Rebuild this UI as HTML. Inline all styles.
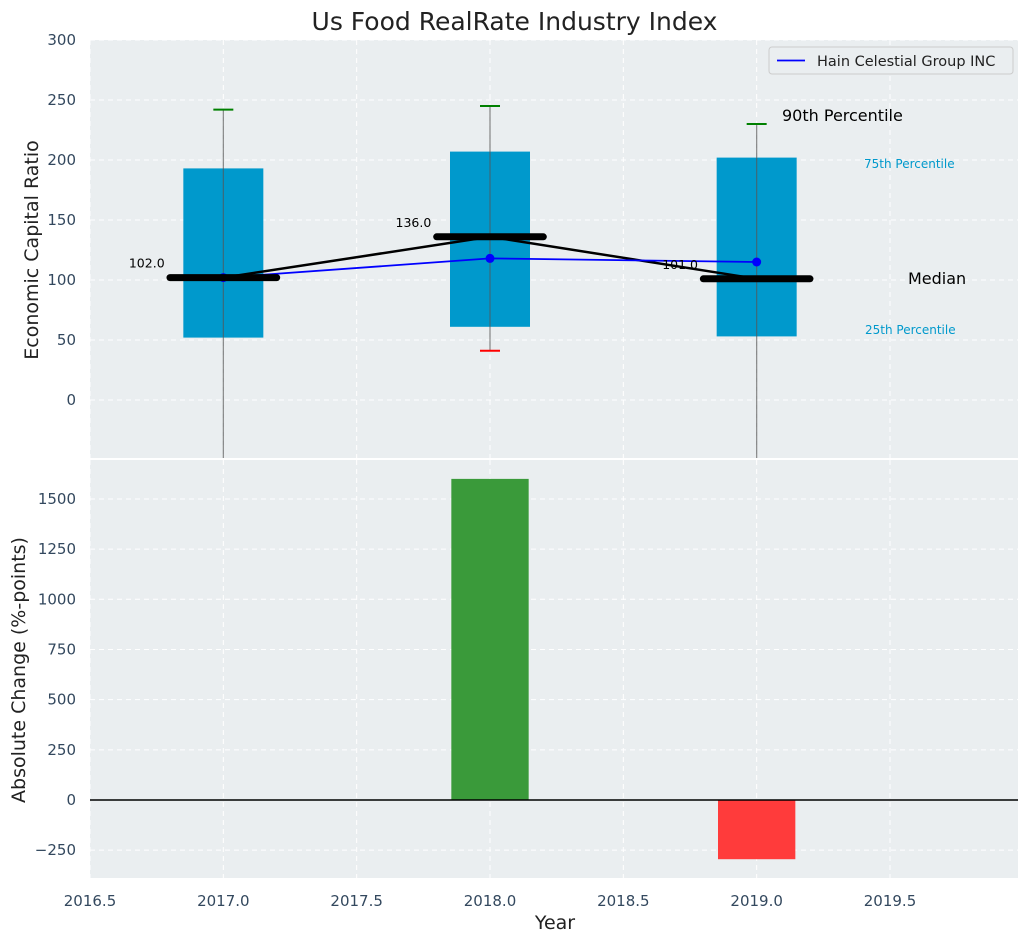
<!DOCTYPE html>
<html><head><meta charset="utf-8"><style>
body{margin:0;background:#fff;font-family:"Liberation Sans","DejaVu Sans",sans-serif}
svg text{font-family:"DejaVu Sans","Liberation Sans",sans-serif}
</style></head><body>
<svg id="c" width="1029" height="942" xmlns="http://www.w3.org/2000/svg"></svg>
<script>
const years=[2017,2018,2019];
const p10=[-100,41,-100];
const p25=[52,61,53];
const p50=[102,136,101];
const p75=[193,207,202];
const p90=[242,245,230];
const company=[102,118,115];
const changes=[0,1600,-295];
const xTicks=[2016.5,2017,2017.5,2018,2018.5,2019,2019.5];
const yTicksTop=[0,50,100,150,200,250,300];
const yTicksBot=[-250,0,250,500,750,1000,1250,1500];

const NS="http://www.w3.org/2000/svg";
const svg=document.getElementById('c');
function el(t,a,p){const e=document.createElementNS(NS,t);for(const k in a)e.setAttribute(k,a[k]);(p||svg).appendChild(e);return e;}
const L=90,R=1018;
const X=v=>L+(v-2016.5)/(2019.98-2016.5)*(R-L);
const T0=40,T1=458,Yt=v=>400-v*1.2;
const B0=460,B1=878,Yb=v=>800-v*0.2007;

const bgT=el('rect',{x:L,y:T0,width:R-L,height:T1-T0,fill:'#eaeef0'});

const bgB=el('rect',{x:L,y:B0,width:R-L,height:B1-B0,fill:'#eaeef0'});


xTicks.forEach(t=>{
 [[T0,T1],[B0,B1]].forEach(r=>{const g=el('line',{x1:X(t),x2:X(t),y1:r[0],y2:r[1],stroke:'#fff','stroke-dasharray':'5,4','stroke-width':1});});
 const tx=el('text',{x:X(t),y:906,'text-anchor':'middle','font-size':15,fill:'#33485e'});tx.textContent=t.toFixed(1);
 
});
yTicksTop.forEach(t=>{
 const g=el('line',{x1:L,x2:R,y1:Yt(t),y2:Yt(t),stroke:'#fff','stroke-dasharray':'5,4'});
 const tx=el('text',{x:76,y:Yt(t)+5,'text-anchor':'end','font-size':15,fill:'#33485e'});tx.textContent=t;
 
});
yTicksBot.forEach(t=>{
 const g=el('line',{x1:L,x2:R,y1:Yb(t),y2:Yb(t),stroke:'#fff','stroke-dasharray':'5,4'});
 const tx=el('text',{x:76,y:Yb(t)+5,'text-anchor':'end','font-size':15,fill:'#33485e'});tx.textContent=t<0?'\u2212'+(-t):t;
 
});

const clip=el('clipPath',{id:'ct'});el('rect',{x:L,y:T0,width:R-L,height:T1-T0},clip);
const gt=el('g',{'clip-path':'url(#ct)'});
years.forEach((y,i)=>{
 const w=0.3,cx=X(y);
 const b=el('rect',{x:X(y-w/2),y:Yt(p75[i]),width:X(y+w/2)-X(y-w/2),height:Yt(p25[i])-Yt(p75[i]),fill:'#0099cc'},gt);
 
 const wl=el('line',{x1:cx,x2:cx,y1:Yt(p90[i]),y2:Yt(p10[i]),stroke:'#555','stroke-opacity':0.7,'stroke-width':1.2},gt);
 
 const c1=el('line',{x1:cx-10,x2:cx+10,y1:Yt(p90[i]),y2:Yt(p90[i]),stroke:'green','stroke-width':2},gt);
 
 const c2=el('line',{x1:cx-10,x2:cx+10,y1:Yt(p10[i]),y2:Yt(p10[i]),stroke:'red','stroke-width':2},gt);
 
});
const ml=el('polyline',{points:years.map((y,i)=>X(y)+','+Yt(p50[i])).join(' '),fill:'none',stroke:'#000','stroke-width':2.5},gt);

const cl=el('polyline',{points:years.map((y,i)=>X(y)+','+Yt(company[i])).join(' '),fill:'none',stroke:'#0000ff','stroke-width':1.8},gt);

years.forEach((y,i)=>{
 const d=el('circle',{cx:X(y),cy:Yt(company[i]),r:4.5,fill:'#0000ff'},gt);
 
 const m=el('line',{x1:X(y-0.2),x2:X(y+0.2),y1:Yt(p50[i]),y2:Yt(p50[i]),stroke:'#000','stroke-width':7,'stroke-linecap':'round'},gt);
 
 const t=el('text',{x:X(y-0.22),y:Yt(p50[i])-10,'text-anchor':'end','font-size':12.5,fill:'#000'},gt);t.textContent=p50[i].toFixed(1);
 
});

years.forEach((y,i)=>{
 if(!changes[i])return;
 const w=0.29;
 const b=el('rect',{x:X(y-w/2),y:Math.min(Yb(0),Yb(changes[i])),width:X(y+w/2)-X(y-w/2),height:Math.abs(Yb(changes[i])-Yb(0)),fill:changes[i]>0?'#3a9a3a':'#ff3b3b'});
 
});
const z=el('line',{x1:L,x2:R,y1:Yb(0),y2:Yb(0),stroke:'#000','stroke-width':1.5});


function txt(x,y,s,size,fill,name,extra){const t=el('text',Object.assign({x:x,y:y,'font-size':size,fill:fill},extra||{}));t.textContent=s;return t;}
txt(514.5,30,'Us Food RealRate Industry Index',25,'#222','chart-title',{'text-anchor':'middle'});
txt(782,121,'90th Percentile',16,'#000','p90-annotation');
txt(864,168,'75th Percentile',12,'#0099cc','p75-annotation');
txt(908,284,'Median',16,'#000','median-annotation');
txt(865,334,'25th Percentile',12,'#0099cc','p25-annotation');
txt(555,929,'Year',19,'#222','x-axis-title',{'text-anchor':'middle'});
txt(0,0,'Economic Capital Ratio',19,'#222','y-axis-title-top',{'text-anchor':'middle',transform:'translate(38,250) rotate(-90)'});
txt(0,0,'Absolute Change (%-points)',19,'#222','y-axis-title-bottom',{'text-anchor':'middle',transform:'translate(25,670) rotate(-90)'});
const lg=el('rect',{x:769,y:47,width:244,height:27,rx:3,fill:'#eaeef0',stroke:'#ccc'});

const ll=el('line',{x1:777,x2:805,y1:60.5,y2:60.5,stroke:'#0000ff','stroke-width':1.8});

txt(817,66,'Hain Celestial Group INC',14.5,'#222','legend-entry');
</script>
</body></html>
